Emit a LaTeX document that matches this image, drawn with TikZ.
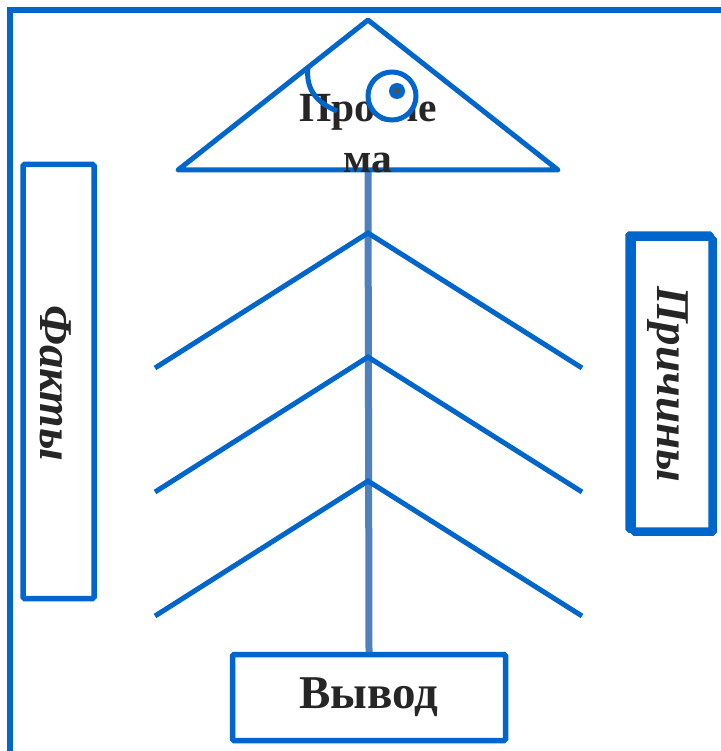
\documentclass[tikz,border=0pt]{standalone}
\usepackage{fontspec}
\setmainfont{Liberation Serif}
\definecolor{mblue}{HTML}{0066CC}
\definecolor{sblue}{HTML}{4F81BD}
\definecolor{tgray}{HTML}{262626}
\begin{document}
\begin{tikzpicture}[x=1pt,y=-1pt,
  line/.style={draw=mblue,line width=5pt},
  box/.style={draw=mblue,line width=5.5pt,rounded corners=1.5pt,fill=white,inner sep=0pt},
  lbl/.style={text=tgray,font=\fontsize{47}{52}\selectfont\bfseries,inner sep=0pt},
  plbl/.style={lbl,font=\fontsize{41.5}{50}\selectfont\bfseries},
  ilbl/.style={lbl,font=\fontsize{47}{52}\selectfont\bfseries\itshape}]
\useasboundingbox (0,0) rectangle (720,751);
\fill[white] (0,0) rectangle (720,751);
% frame
\coordinate (fbl) at (10,760);
\coordinate (ftl) at (10,10);
\coordinate (ftr) at (730,10);
\draw[draw=mblue,line width=6pt] (fbl) -- (ftl) -- (ftr);
% bottom box
\node[box,minimum width=273,minimum height=86] (outbox) at (369,697.5) {};
% spine
\coordinate (apex) at (368,20);
\coordinate (tl) at (178,170);
\coordinate (tr) at (558,170);
\coordinate (tb) at (368,170);
\draw[draw=sblue,line width=7pt] (tb) -- (outbox.north);
% branches
\foreach \i/\y in {1/233,2/357,3/481}{
  \coordinate (b\i) at (368,\y);
  \coordinate (l\i) at (155,\y+135);
  \coordinate (r\i) at (582,\y+135);
  \draw[line] (l\i) -- (b\i) -- (r\i);
}
% triangle
\draw[line,line join=round,line cap=round] (tl) -- (apex) -- (tr) -- cycle;
% problem text
\node[plbl,anchor=base] (prob1) at (368,122) {Пробле};
\node[plbl,anchor=base] (prob2) at (368,173) {ма};
% arc
\coordinate (a1) at (308,67);
\coordinate (a2) at (337,111);
\draw[draw=mblue,line width=5pt] (a1) .. controls (305,92) and (320,104) .. (a2);
% eye
\node[circle,draw=mblue,line width=5pt,fill=white,minimum size=48,inner sep=0pt] (eye) at (392,96) {};
\node[circle,fill=mblue,minimum size=16,inner sep=0pt] (pupil) at (397,91) {};
\node[circle,fill=tgray!80,minimum size=6,inner sep=0pt] (dot) at (pupil.center) {};
% bottom text
\node[lbl] (vyvod) at (outbox.center) {Вывод};
% facts box
\node[box,minimum width=71,minimum height=434] (factsbox) at (58.5,381.5) {};
\node[ilbl,rotate=-90] (facts) at (56,383) {Факты};
% causes box (double)
\node[box,minimum width=83,minimum height=296] (causesA) at (669.5,382) {};
\node[box,fill=none,minimum width=81,minimum height=295] (causesB) at (673.5,385.5) {};
\node[ilbl,rotate=-90] (causes) at (668,384) {Причины};
\end{tikzpicture}
\end{document}
